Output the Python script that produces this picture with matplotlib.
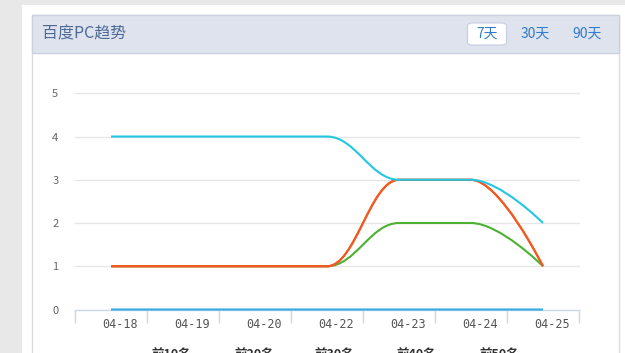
import matplotlib.pyplot as plt
import matplotlib.transforms as mtransforms
from matplotlib.patches import FancyBboxPatch, PathPatch, Rectangle
from matplotlib.path import Path

plt.rcParams["font.family"] = ["Noto Sans CJK SC", "DejaVu Sans"]

dates = ["04-18", "04-19", "04-20", "04-22", "04-23", "04-24", "04-25"]
series_names = ["前10名", "前20名", "前30名", "前40名", "前50名"]
top10 = [0, 0, 0, 0, 0, 0, 0]
top20 = [1, 1, 1, 1, 2, 2, 1]
top30 = [1, 1, 1, 1, 3, 3, 1]
top40 = [1, 1, 1, 1, 3, 3, 1]
top50 = [4, 4, 4, 4, 3, 3, 2]
series_values = [top10, top20, top30, top40, top50]
series_colors = ["#33ace3", "#4cb133", "#f15a22", "#f15a22", "#23c6e3"]
y_ticks = [0, 1, 2, 3, 4, 5]

W, H = 625, 353


def spline_path(xs, ys, smoothing=1.5):
    # highcharts style spline: bezier control points per point
    denom = smoothing + 1
    n = len(xs)
    left = [(x, y) for x, y in zip(xs, ys)]
    right = [(x, y) for x, y in zip(xs, ys)]
    for i in range(1, n - 1):
        x, y = xs[i], ys[i]
        px, py = xs[i - 1], ys[i - 1]
        nx, ny = xs[i + 1], ys[i + 1]
        lcx = (smoothing * x + px) / denom
        lcy = (smoothing * y + py) / denom
        rcx = (smoothing * x + nx) / denom
        rcy = (smoothing * y + ny) / denom
        if rcx != lcx:
            corr = (rcy - lcy) * (rcx - x) / (rcx - lcx) + y - rcy
            lcy += corr
            rcy += corr
        if lcy > max(py, y):
            lcy = max(py, y)
            rcy = 2 * y - lcy
        elif lcy < min(py, y):
            lcy = min(py, y)
            rcy = 2 * y - lcy
        if rcy > max(ny, y):
            rcy = max(ny, y)
            lcy = 2 * y - rcy
        elif rcy < min(ny, y):
            rcy = min(ny, y)
            lcy = 2 * y - rcy
        left[i] = (lcx, lcy)
        right[i] = (rcx, rcy)
    verts = [(xs[0], ys[0])]
    codes = [Path.MOVETO]
    for i in range(1, n):
        verts += [right[i - 1], left[i], (xs[i], ys[i])]
        codes += [Path.CURVE4] * 3
    return Path(verts, codes)


fig = plt.figure(figsize=(W / 100, H / 100), dpi=100)
fig.patch.set_facecolor("#e8e8e8")


def px_rect(x0, y0, x1, y1, **kw):
    fig.patches.append(Rectangle((x0 / W, 1 - y1 / H), (x1 - x0) / W, (y1 - y0) / H,
                                 transform=fig.transFigure, **kw))


# white outer panel and boxed widget
px_rect(22, 5, 640, 360, facecolor="white", edgecolor="none", zorder=0)
px_rect(32, 15, 619, 400, facecolor="white", edgecolor="#dcdcdc", linewidth=1, zorder=0)
px_rect(32, 15, 619, 53, facecolor="#dfe3ee", edgecolor="#c9d0de", linewidth=1, zorder=0)

fig.text(42 / W, 1 - 34 / H, "百度PC趋势", fontsize=11.5, color="#4d6a96",
         ha="left", va="center")
fig.patches.append(FancyBboxPatch((467.5 / W, 1 - 45 / H), 39 / W, 22 / H,
                                  boxstyle="round,pad=0,rounding_size=0.008",
                                  transform=fig.transFigure, facecolor="white",
                                  edgecolor="#c5cde0", linewidth=0.8, zorder=1))
for cx, lab in [(487, "7天"), (535, "30天"), (587, "90天")]:
    fig.text(cx / W, 1 - 34 / H, lab, fontsize=10, color="#2e7bcf",
             ha="center", va="center", zorder=2)

# plot area
x0, x1 = 75, 579
y_top, y_bot = 93.3, 309.5
ax = fig.add_axes([x0 / W, 1 - y_bot / H, (x1 - x0) / W, (y_bot - y_top) / H])
ax.set_zorder(5)
ax.set_facecolor("none")
ax.set_xlim(-0.5, len(dates) - 0.5)
ax.set_ylim(0, 5)
for s in ["top", "right", "left"]:
    ax.spines[s].set_visible(False)
ax.spines["bottom"].set_color("#ccd6eb")
ax.spines["bottom"].set_linewidth(1)

ax.set_yticks(y_ticks)
ax.set_yticklabels([str(v) for v in y_ticks], color="#666666", fontsize=8)
ax.tick_params(axis="y", length=0, pad=12)
for v in y_ticks[1:]:
    ax.axhline(v, color="#e6e6e6", linewidth=1, zorder=0, clip_on=False)

ax.set_xticks([i - 0.5 for i in range(len(dates) + 1)])
ax.set_xticklabels([])
ax.tick_params(axis="x", which="major", direction="out", length=9,
               color="#ccd6eb", width=1)
ax.set_xticks(range(len(dates)), minor=True)
ax.set_xticklabels(dates, minor=True, fontsize=8.5, color="#555555",
                   family=["DejaVu Sans Mono", "DejaVu Sans"])
ax.tick_params(axis="x", which="minor", length=0, pad=6)
shift = mtransforms.ScaledTranslation(9 / 100, 0, fig.dpi_scale_trans)
for lab in ax.get_xticklabels(minor=True):
    lab.set_transform(lab.get_transform() + shift)

xs = list(range(len(dates)))
order = [0, 1, 3, 2, 4]
for k in order:
    ax.add_patch(PathPatch(spline_path(xs, series_values[k]), facecolor="none",
                           edgecolor=series_colors[k], linewidth=1.5,
                           clip_on=False, zorder=3 + k))

# legend (cut off at the bottom of the picture, as in the original)
for lx, name in zip([171, 254, 334, 416, 499], series_names):
    fig.text(lx / W, 1 - 354.5 / H, name, fontsize=9, fontweight="bold",
             color="#333333", ha="center", va="center", zorder=6)

fig.savefig("out.png", dpi=100, facecolor=fig.get_facecolor())
